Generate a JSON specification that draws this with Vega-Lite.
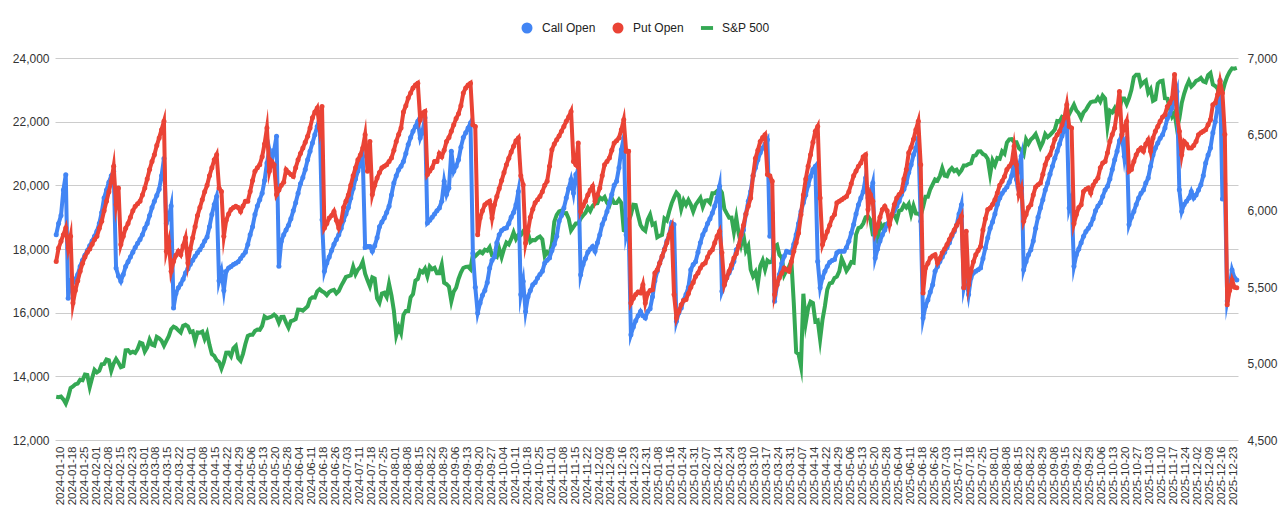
{
"$schema":"https://vega.github.io/schema/vega-lite/v6.json",
"width":1183,"height":382,
"autosize":{"type":"none"},
"padding":{"left":55,"top":58,"right":46,"bottom":78},
"config":{"view":{"stroke":null},"font":"Liberation Sans","axis":{"labelFont":"Liberation Sans","labelColor":"#333333","labelFontSize":12,"ticks":false,"tickSize":0,"domain":false}},
"data":{"values":[
{"d":"2024-01-10","c":18450,"p":17610,"s":4783},
{"d":"2024-01-11","c":18800,"p":18030,"s":4780},
{"d":"2024-01-12","c":19050,"p":18240,"s":4784},
{"d":"2024-01-16","c":19850,"p":18450,"s":4766},
{"d":"2024-01-17","c":20330,"p":18660,"s":4739},
{"d":"2024-01-18","c":16450,"p":18030,"s":4781},
{"d":"2024-01-19","c":17000,"p":18400,"s":4840},
{"d":"2024-01-22","c":16950,"p":16300,"s":4850},
{"d":"2024-01-23","c":17050,"p":16700,"s":4865},
{"d":"2024-01-24","c":17200,"p":17000,"s":4869},
{"d":"2024-01-25","c":17450,"p":17300,"s":4894},
{"d":"2024-01-26","c":17650,"p":17550,"s":4891},
{"d":"2024-01-29","c":17800,"p":17750,"s":4928},
{"d":"2024-01-30","c":17950,"p":17900,"s":4925},
{"d":"2024-01-31","c":18100,"p":18000,"s":4846},
{"d":"2024-02-01","c":18250,"p":18150,"s":4906},
{"d":"2024-02-02","c":18400,"p":18300,"s":4959},
{"d":"2024-02-05","c":18560,"p":18400,"s":4943},
{"d":"2024-02-06","c":18800,"p":18650,"s":4954},
{"d":"2024-02-07","c":19150,"p":18870,"s":4995},
{"d":"2024-02-08","c":19600,"p":19200,"s":4998},
{"d":"2024-02-09","c":19850,"p":19500,"s":5027},
{"d":"2024-02-12","c":20100,"p":19800,"s":5022},
{"d":"2024-02-13","c":20300,"p":20130,"s":4953},
{"d":"2024-02-14","c":20440,"p":20600,"s":5001},
{"d":"2024-02-15","c":17400,"p":19400,"s":5030},
{"d":"2024-02-16","c":17150,"p":19920,"s":5006},
{"d":"2024-02-20","c":16990,"p":18140,"s":4976},
{"d":"2024-02-21","c":17200,"p":18400,"s":4982},
{"d":"2024-02-22","c":17450,"p":18650,"s":5087},
{"d":"2024-02-23","c":17600,"p":18800,"s":5089},
{"d":"2024-02-26","c":17750,"p":19000,"s":5070},
{"d":"2024-02-27","c":17900,"p":19200,"s":5078},
{"d":"2024-02-28","c":18050,"p":19340,"s":5070},
{"d":"2024-02-29","c":18180,"p":19420,"s":5096},
{"d":"2024-03-01","c":18300,"p":19500,"s":5137},
{"d":"2024-03-04","c":18450,"p":19700,"s":5131},
{"d":"2024-03-05","c":18650,"p":19920,"s":5079},
{"d":"2024-03-06","c":18800,"p":20200,"s":5105},
{"d":"2024-03-07","c":19050,"p":20500,"s":5157},
{"d":"2024-03-08","c":19300,"p":20750,"s":5124},
{"d":"2024-03-11","c":19500,"p":20960,"s":5118},
{"d":"2024-03-12","c":19680,"p":21250,"s":5175},
{"d":"2024-03-13","c":19880,"p":21490,"s":5165},
{"d":"2024-03-14","c":20300,"p":21750,"s":5150},
{"d":"2024-03-15","c":20840,"p":22010,"s":5117},
{"d":"2024-03-18","c":18800,"p":17930,"s":5149},
{"d":"2024-03-19","c":19000,"p":18240,"s":5179},
{"d":"2024-03-20","c":19350,"p":17300,"s":5225},
{"d":"2024-03-21","c":16150,"p":17610,"s":5242},
{"d":"2024-03-22","c":16600,"p":17800,"s":5234},
{"d":"2024-03-25","c":16780,"p":17930,"s":5218},
{"d":"2024-03-26","c":16900,"p":17820,"s":5204},
{"d":"2024-03-27","c":17050,"p":18100,"s":5248},
{"d":"2024-03-28","c":17250,"p":18350,"s":5254},
{"d":"2024-04-01","c":17380,"p":17560,"s":5244},
{"d":"2024-04-02","c":17520,"p":18000,"s":5206},
{"d":"2024-04-03","c":17650,"p":18350,"s":5211},
{"d":"2024-04-04","c":17770,"p":18700,"s":5147},
{"d":"2024-04-05","c":17880,"p":19050,"s":5204},
{"d":"2024-04-08","c":17980,"p":19300,"s":5202},
{"d":"2024-04-09","c":18100,"p":19550,"s":5210},
{"d":"2024-04-10","c":18250,"p":19800,"s":5161},
{"d":"2024-04-11","c":18380,"p":20000,"s":5199},
{"d":"2024-04-12","c":18700,"p":20300,"s":5123},
{"d":"2024-04-15","c":19080,"p":20550,"s":5062},
{"d":"2024-04-16","c":19400,"p":20800,"s":5051},
{"d":"2024-04-17","c":19650,"p":20960,"s":5022},
{"d":"2024-04-18","c":17000,"p":19920,"s":5011},
{"d":"2024-04-19","c":17300,"p":19810,"s":4967},
{"d":"2024-04-22","c":16700,"p":18400,"s":5011},
{"d":"2024-04-23","c":17300,"p":18900,"s":5071},
{"d":"2024-04-24","c":17400,"p":19100,"s":5072},
{"d":"2024-04-25","c":17450,"p":19240,"s":5048},
{"d":"2024-04-26","c":17510,"p":19300,"s":5100},
{"d":"2024-04-29","c":17550,"p":19340,"s":5116},
{"d":"2024-04-30","c":17600,"p":19300,"s":5036},
{"d":"2024-05-01","c":17700,"p":19180,"s":5018},
{"d":"2024-05-02","c":17800,"p":19350,"s":5064},
{"d":"2024-05-03","c":17900,"p":19500,"s":5128},
{"d":"2024-05-06","c":18140,"p":19500,"s":5181},
{"d":"2024-05-07","c":18450,"p":19810,"s":5188},
{"d":"2024-05-08","c":18700,"p":20150,"s":5188},
{"d":"2024-05-09","c":19080,"p":20440,"s":5214},
{"d":"2024-05-10","c":19350,"p":20550,"s":5223},
{"d":"2024-05-13","c":19550,"p":20650,"s":5221},
{"d":"2024-05-14","c":19750,"p":20900,"s":5247},
{"d":"2024-05-15","c":20150,"p":21300,"s":5308},
{"d":"2024-05-16","c":20700,"p":21800,"s":5297},
{"d":"2024-05-17","c":21120,"p":20440,"s":5303},
{"d":"2024-05-20","c":20750,"p":20750,"s":5308},
{"d":"2024-05-21","c":21100,"p":20650,"s":5321},
{"d":"2024-05-22","c":21540,"p":19710,"s":5307},
{"d":"2024-05-23","c":17460,"p":19850,"s":5268},
{"d":"2024-05-24","c":18240,"p":20000,"s":5305},
{"d":"2024-05-28","c":18450,"p":20100,"s":5306},
{"d":"2024-05-29","c":18600,"p":20490,"s":5267},
{"d":"2024-05-30","c":18750,"p":20400,"s":5235},
{"d":"2024-05-31","c":18950,"p":20340,"s":5278},
{"d":"2024-06-03","c":19200,"p":20280,"s":5283},
{"d":"2024-06-04","c":19450,"p":20550,"s":5291},
{"d":"2024-06-05","c":19750,"p":20800,"s":5354},
{"d":"2024-06-06","c":20050,"p":21000,"s":5353},
{"d":"2024-06-07","c":20250,"p":21170,"s":5347},
{"d":"2024-06-10","c":20500,"p":21350,"s":5361},
{"d":"2024-06-11","c":20800,"p":21540,"s":5375},
{"d":"2024-06-12","c":21070,"p":21800,"s":5421},
{"d":"2024-06-13","c":21330,"p":22120,"s":5434},
{"d":"2024-06-14","c":21590,"p":22300,"s":5432},
{"d":"2024-06-17","c":21850,"p":22430,"s":5473},
{"d":"2024-06-18","c":22120,"p":21800,"s":5487},
{"d":"2024-06-20","c":18920,"p":22480,"s":5473},
{"d":"2024-06-21","c":17300,"p":18660,"s":5465},
{"d":"2024-06-24","c":17560,"p":18800,"s":5448},
{"d":"2024-06-25","c":17750,"p":18970,"s":5469},
{"d":"2024-06-26","c":17950,"p":19050,"s":5478},
{"d":"2024-06-27","c":18150,"p":19180,"s":5483},
{"d":"2024-06-28","c":18300,"p":18900,"s":5460},
{"d":"2024-07-01","c":18450,"p":18660,"s":5475},
{"d":"2024-07-02","c":18650,"p":18870,"s":5509},
{"d":"2024-07-03","c":18900,"p":19300,"s":5537},
{"d":"2024-07-05","c":19100,"p":19500,"s":5567},
{"d":"2024-07-08","c":19300,"p":19700,"s":5573},
{"d":"2024-07-09","c":19600,"p":20000,"s":5577},
{"d":"2024-07-10","c":19900,"p":20300,"s":5634},
{"d":"2024-07-11","c":20200,"p":20550,"s":5585},
{"d":"2024-07-12","c":20450,"p":20800,"s":5615},
{"d":"2024-07-15","c":20700,"p":20950,"s":5631},
{"d":"2024-07-16","c":20910,"p":21170,"s":5667},
{"d":"2024-07-17","c":18050,"p":21590,"s":5588},
{"d":"2024-07-18","c":18080,"p":20440,"s":5545},
{"d":"2024-07-19","c":18080,"p":21380,"s":5505},
{"d":"2024-07-22","c":17930,"p":19710,"s":5564},
{"d":"2024-07-23","c":18100,"p":20000,"s":5556},
{"d":"2024-07-24","c":18350,"p":20230,"s":5427},
{"d":"2024-07-25","c":18700,"p":20400,"s":5399},
{"d":"2024-07-26","c":18850,"p":20550,"s":5459},
{"d":"2024-07-29","c":18970,"p":20600,"s":5464},
{"d":"2024-07-30","c":19150,"p":20650,"s":5436},
{"d":"2024-07-31","c":19340,"p":20750,"s":5522},
{"d":"2024-08-01","c":19700,"p":20860,"s":5447},
{"d":"2024-08-02","c":20070,"p":21100,"s":5347},
{"d":"2024-08-05","c":20300,"p":21380,"s":5186},
{"d":"2024-08-06","c":20490,"p":21600,"s":5240},
{"d":"2024-08-07","c":20600,"p":21800,"s":5200},
{"d":"2024-08-08","c":20750,"p":22300,"s":5319},
{"d":"2024-08-09","c":21000,"p":22500,"s":5344},
{"d":"2024-08-12","c":21280,"p":22740,"s":5344},
{"d":"2024-08-13","c":21500,"p":22900,"s":5434},
{"d":"2024-08-14","c":21700,"p":23060,"s":5455},
{"d":"2024-08-15","c":21850,"p":23150,"s":5543},
{"d":"2024-08-16","c":22010,"p":23210,"s":5554},
{"d":"2024-08-19","c":21490,"p":22060,"s":5608},
{"d":"2024-08-20","c":21700,"p":22270,"s":5597},
{"d":"2024-08-21","c":22120,"p":22320,"s":5621},
{"d":"2024-08-22","c":18820,"p":20340,"s":5571},
{"d":"2024-08-23","c":18900,"p":20450,"s":5635},
{"d":"2024-08-26","c":19000,"p":20550,"s":5617},
{"d":"2024-08-27","c":19100,"p":20750,"s":5626},
{"d":"2024-08-28","c":19200,"p":20750,"s":5592},
{"d":"2024-08-29","c":19290,"p":21000,"s":5592},
{"d":"2024-08-30","c":19500,"p":20900,"s":5648},
{"d":"2024-09-03","c":20130,"p":21100,"s":5529},
{"d":"2024-09-04","c":19710,"p":21380,"s":5520},
{"d":"2024-09-05","c":19920,"p":21500,"s":5503},
{"d":"2024-09-06","c":21070,"p":21700,"s":5408},
{"d":"2024-09-09","c":20440,"p":21900,"s":5471},
{"d":"2024-09-10","c":20600,"p":22100,"s":5496},
{"d":"2024-09-11","c":20800,"p":22250,"s":5554},
{"d":"2024-09-12","c":21200,"p":22500,"s":5596},
{"d":"2024-09-13","c":21500,"p":22900,"s":5626},
{"d":"2024-09-16","c":21650,"p":23060,"s":5633},
{"d":"2024-09-17","c":21800,"p":23150,"s":5635},
{"d":"2024-09-18","c":21960,"p":23210,"s":5618},
{"d":"2024-09-19","c":17870,"p":21900,"s":5714},
{"d":"2024-09-20","c":16800,"p":21850,"s":5703},
{"d":"2024-09-23","c":15990,"p":18450,"s":5719},
{"d":"2024-09-24","c":16300,"p":18970,"s":5733},
{"d":"2024-09-25","c":16550,"p":19200,"s":5722},
{"d":"2024-09-26","c":16700,"p":19390,"s":5745},
{"d":"2024-09-27","c":16950,"p":19450,"s":5738},
{"d":"2024-09-30","c":17400,"p":19500,"s":5762},
{"d":"2024-10-01","c":17650,"p":18970,"s":5709},
{"d":"2024-10-02","c":17750,"p":19390,"s":5709},
{"d":"2024-10-03","c":18200,"p":19650,"s":5699},
{"d":"2024-10-04","c":18450,"p":19900,"s":5751},
{"d":"2024-10-07","c":18580,"p":20150,"s":5696},
{"d":"2024-10-08","c":18640,"p":20400,"s":5751},
{"d":"2024-10-09","c":18660,"p":20650,"s":5792},
{"d":"2024-10-10","c":18800,"p":20850,"s":5780},
{"d":"2024-10-11","c":19000,"p":21050,"s":5815},
{"d":"2024-10-14","c":19150,"p":21230,"s":5859},
{"d":"2024-10-15","c":19390,"p":21400,"s":5815},
{"d":"2024-10-16","c":19810,"p":21490,"s":5842},
{"d":"2024-10-17","c":16570,"p":20300,"s":5841},
{"d":"2024-10-18","c":16990,"p":20020,"s":5865},
{"d":"2024-10-21","c":16040,"p":18190,"s":5853},
{"d":"2024-10-22","c":16500,"p":18560,"s":5851},
{"d":"2024-10-23","c":16700,"p":19000,"s":5797},
{"d":"2024-10-24","c":16880,"p":19250,"s":5809},
{"d":"2024-10-25","c":16950,"p":19450,"s":5808},
{"d":"2024-10-28","c":17090,"p":19550,"s":5823},
{"d":"2024-10-29","c":17200,"p":19650,"s":5832},
{"d":"2024-10-30","c":17300,"p":19800,"s":5813},
{"d":"2024-10-31","c":17560,"p":20000,"s":5705},
{"d":"2024-11-01","c":17650,"p":20130,"s":5729},
{"d":"2024-11-04","c":17720,"p":20600,"s":5712},
{"d":"2024-11-05","c":17950,"p":21120,"s":5783},
{"d":"2024-11-06","c":18150,"p":21300,"s":5929},
{"d":"2024-11-07","c":18400,"p":21430,"s":5973},
{"d":"2024-11-08","c":18870,"p":21550,"s":5996},
{"d":"2024-11-11","c":19050,"p":21700,"s":6001},
{"d":"2024-11-12","c":19290,"p":21850,"s":5984},
{"d":"2024-11-13","c":19600,"p":22010,"s":5985},
{"d":"2024-11-14","c":19900,"p":22150,"s":5949},
{"d":"2024-11-15","c":20180,"p":22320,"s":5871},
{"d":"2024-11-18","c":19760,"p":20750,"s":5894},
{"d":"2024-11-19","c":20340,"p":20650,"s":5917},
{"d":"2024-11-20","c":20490,"p":21330,"s":5917},
{"d":"2024-11-21","c":17190,"p":19180,"s":5949},
{"d":"2024-11-22","c":17510,"p":19350,"s":5969},
{"d":"2024-11-25","c":17700,"p":19500,"s":5987},
{"d":"2024-11-26","c":17900,"p":19700,"s":6021},
{"d":"2024-11-27","c":18000,"p":19850,"s":5999},
{"d":"2024-11-29","c":18080,"p":19970,"s":6032},
{"d":"2024-12-02","c":17930,"p":19500,"s":6047},
{"d":"2024-12-03","c":18200,"p":19700,"s":6050},
{"d":"2024-12-04","c":18450,"p":19920,"s":6087},
{"d":"2024-12-05","c":18770,"p":20300,"s":6075},
{"d":"2024-12-06","c":18950,"p":20650,"s":6090},
{"d":"2024-12-09","c":19180,"p":20750,"s":6053},
{"d":"2024-12-10","c":19450,"p":20860,"s":6034},
{"d":"2024-12-11","c":19710,"p":21100,"s":6084},
{"d":"2024-12-12","c":20000,"p":21330,"s":6051},
{"d":"2024-12-13","c":20130,"p":21400,"s":6051},
{"d":"2024-12-16","c":20550,"p":21490,"s":6074},
{"d":"2024-12-17","c":21120,"p":21750,"s":6051},
{"d":"2024-12-18","c":21490,"p":22060,"s":5872},
{"d":"2024-12-19","c":18450,"p":21070,"s":5867},
{"d":"2024-12-20","c":18790,"p":21070,"s":5931},
{"d":"2024-12-23","c":15310,"p":16300,"s":5975},
{"d":"2024-12-24","c":15550,"p":16450,"s":6040},
{"d":"2024-12-26","c":15750,"p":16570,"s":6038},
{"d":"2024-12-27","c":15900,"p":16650,"s":5971},
{"d":"2024-12-30","c":16040,"p":16620,"s":5907},
{"d":"2024-12-31","c":15900,"p":16880,"s":5882},
{"d":"2025-01-02","c":15830,"p":16300,"s":5869},
{"d":"2025-01-03","c":16040,"p":16600,"s":5942},
{"d":"2025-01-06","c":16120,"p":16700,"s":5975},
{"d":"2025-01-07","c":16500,"p":16720,"s":5909},
{"d":"2025-01-08","c":17000,"p":17250,"s":5918},
{"d":"2025-01-10","c":17300,"p":17350,"s":5827},
{"d":"2025-01-13","c":17560,"p":17550,"s":5836},
{"d":"2025-01-14","c":17750,"p":17770,"s":5843},
{"d":"2025-01-15","c":18000,"p":17980,"s":5950},
{"d":"2025-01-16","c":18250,"p":18200,"s":5937},
{"d":"2025-01-17","c":18450,"p":18450,"s":5997},
{"d":"2025-01-21","c":18820,"p":18660,"s":6049},
{"d":"2025-01-22","c":18770,"p":16570,"s":6086},
{"d":"2025-01-23","c":15730,"p":15830,"s":6119},
{"d":"2025-01-24","c":16000,"p":16040,"s":6101},
{"d":"2025-01-27","c":16150,"p":16250,"s":6012},
{"d":"2025-01-28","c":16400,"p":16380,"s":6068},
{"d":"2025-01-29","c":16570,"p":16410,"s":6039},
{"d":"2025-01-30","c":16800,"p":16600,"s":6071},
{"d":"2025-01-31","c":17350,"p":16800,"s":6041},
{"d":"2025-02-03","c":17510,"p":16950,"s":5995},
{"d":"2025-02-04","c":17600,"p":17140,"s":6038},
{"d":"2025-02-05","c":17900,"p":17250,"s":6061},
{"d":"2025-02-06","c":18200,"p":17400,"s":6084},
{"d":"2025-02-07","c":18450,"p":17510,"s":6026},
{"d":"2025-02-10","c":18600,"p":17560,"s":6066},
{"d":"2025-02-11","c":18800,"p":17750,"s":6069},
{"d":"2025-02-12","c":18950,"p":17900,"s":6052},
{"d":"2025-02-13","c":19130,"p":17980,"s":6115},
{"d":"2025-02-14","c":19350,"p":18200,"s":6115},
{"d":"2025-02-18","c":19600,"p":18400,"s":6130},
{"d":"2025-02-19","c":19970,"p":18560,"s":6144},
{"d":"2025-02-20","c":16670,"p":17880,"s":6118},
{"d":"2025-02-21","c":16880,"p":16880,"s":6013},
{"d":"2025-02-24","c":17100,"p":17100,"s":5983},
{"d":"2025-02-25","c":17250,"p":17300,"s":5955},
{"d":"2025-02-26","c":17400,"p":17500,"s":5956},
{"d":"2025-02-27","c":17610,"p":17720,"s":5862},
{"d":"2025-02-28","c":17980,"p":17850,"s":5955},
{"d":"2025-03-03","c":18100,"p":18100,"s":5850},
{"d":"2025-03-04","c":18400,"p":18450,"s":5778},
{"d":"2025-03-05","c":18600,"p":18750,"s":5843},
{"d":"2025-03-06","c":19100,"p":19100,"s":5739},
{"d":"2025-03-07","c":19500,"p":19350,"s":5770},
{"d":"2025-03-10","c":19810,"p":19600,"s":5615},
{"d":"2025-03-11","c":20300,"p":20300,"s":5572},
{"d":"2025-03-12","c":20550,"p":20850,"s":5599},
{"d":"2025-03-13","c":20800,"p":21100,"s":5522},
{"d":"2025-03-14","c":21020,"p":21380,"s":5639},
{"d":"2025-03-17","c":21170,"p":21500,"s":5675},
{"d":"2025-03-18","c":21300,"p":21590,"s":5615},
{"d":"2025-03-19","c":21430,"p":20340,"s":5675},
{"d":"2025-03-20","c":18400,"p":20300,"s":5663},
{"d":"2025-03-21","c":19130,"p":20130,"s":5668},
{"d":"2025-03-24","c":16360,"p":16570,"s":5768},
{"d":"2025-03-25","c":16880,"p":16880,"s":5777},
{"d":"2025-03-26","c":17200,"p":17100,"s":5712},
{"d":"2025-03-27","c":17550,"p":17250,"s":5693},
{"d":"2025-03-28","c":17770,"p":17400,"s":5581},
{"d":"2025-03-31","c":17930,"p":17350,"s":5612},
{"d":"2025-04-01","c":17900,"p":17300,"s":5633},
{"d":"2025-04-02","c":17880,"p":17600,"s":5671},
{"d":"2025-04-03","c":18150,"p":17930,"s":5397},
{"d":"2025-04-04","c":18450,"p":18200,"s":5074},
{"d":"2025-04-07","c":18800,"p":18500,"s":5062},
{"d":"2025-04-08","c":19180,"p":19080,"s":4983},
{"d":"2025-04-09","c":19450,"p":19700,"s":5457},
{"d":"2025-04-10","c":19700,"p":20200,"s":5268},
{"d":"2025-04-11","c":20000,"p":20600,"s":5363},
{"d":"2025-04-14","c":20280,"p":20960,"s":5406},
{"d":"2025-04-15","c":20500,"p":21350,"s":5397},
{"d":"2025-04-16","c":20600,"p":21700,"s":5276},
{"d":"2025-04-17","c":17610,"p":21850,"s":5283},
{"d":"2025-04-21","c":16780,"p":19600,"s":5158},
{"d":"2025-04-22","c":17100,"p":18140,"s":5288},
{"d":"2025-04-23","c":17300,"p":18350,"s":5376},
{"d":"2025-04-24","c":17460,"p":18550,"s":5485},
{"d":"2025-04-25","c":17580,"p":18750,"s":5525},
{"d":"2025-04-28","c":17640,"p":18970,"s":5529},
{"d":"2025-04-29","c":17670,"p":19080,"s":5561},
{"d":"2025-04-30","c":17880,"p":19450,"s":5569},
{"d":"2025-05-01","c":17930,"p":19500,"s":5604},
{"d":"2025-05-02","c":17930,"p":19550,"s":5687},
{"d":"2025-05-05","c":17930,"p":19600,"s":5650},
{"d":"2025-05-06","c":18050,"p":19650,"s":5607},
{"d":"2025-05-07","c":18240,"p":19800,"s":5631},
{"d":"2025-05-08","c":18500,"p":20050,"s":5664},
{"d":"2025-05-09","c":18770,"p":20300,"s":5660},
{"d":"2025-05-12","c":19100,"p":20450,"s":5844},
{"d":"2025-05-13","c":19390,"p":20600,"s":5887},
{"d":"2025-05-14","c":19600,"p":20700,"s":5893},
{"d":"2025-05-15","c":19800,"p":20900,"s":5917},
{"d":"2025-05-16","c":20230,"p":20960,"s":5958},
{"d":"2025-05-19","c":19600,"p":19240,"s":5964},
{"d":"2025-05-20","c":19760,"p":19710,"s":5940},
{"d":"2025-05-21","c":20070,"p":19500,"s":5845},
{"d":"2025-05-22","c":17720,"p":18500,"s":5842},
{"d":"2025-05-23","c":18000,"p":18700,"s":5803},
{"d":"2025-05-27","c":18250,"p":19000,"s":5922},
{"d":"2025-05-28","c":18450,"p":19240,"s":5889},
{"d":"2025-05-29","c":18600,"p":19340,"s":5912},
{"d":"2025-05-30","c":18770,"p":19200,"s":5912},
{"d":"2025-06-02","c":18900,"p":18770,"s":5936},
{"d":"2025-06-03","c":19080,"p":19080,"s":5970},
{"d":"2025-06-04","c":19200,"p":19400,"s":5971},
{"d":"2025-06-05","c":19340,"p":19600,"s":5939},
{"d":"2025-06-06","c":19500,"p":19710,"s":6000},
{"d":"2025-06-09","c":19710,"p":19800,"s":6006},
{"d":"2025-06-10","c":19880,"p":20200,"s":6039},
{"d":"2025-06-11","c":20070,"p":20500,"s":6022},
{"d":"2025-06-12","c":20400,"p":21020,"s":6045},
{"d":"2025-06-13","c":20650,"p":21200,"s":5977},
{"d":"2025-06-16","c":20960,"p":21450,"s":6033},
{"d":"2025-06-17","c":21170,"p":21750,"s":5983},
{"d":"2025-06-18","c":21490,"p":22010,"s":5981},
{"d":"2025-06-20","c":18870,"p":20650,"s":5968},
{"d":"2025-06-23","c":15830,"p":16620,"s":6025},
{"d":"2025-06-24","c":16200,"p":17400,"s":6092},
{"d":"2025-06-25","c":16400,"p":17550,"s":6092},
{"d":"2025-06-26","c":16650,"p":17720,"s":6141},
{"d":"2025-06-27","c":16880,"p":17780,"s":6173},
{"d":"2025-06-30","c":17300,"p":17820,"s":6205},
{"d":"2025-07-01","c":17450,"p":17560,"s":6198},
{"d":"2025-07-02","c":17610,"p":17700,"s":6227},
{"d":"2025-07-03","c":17750,"p":17880,"s":6279},
{"d":"2025-07-07","c":17900,"p":18000,"s":6230},
{"d":"2025-07-08","c":18050,"p":18140,"s":6226},
{"d":"2025-07-09","c":18200,"p":18300,"s":6263},
{"d":"2025-07-10","c":18400,"p":18450,"s":6280},
{"d":"2025-07-11","c":18550,"p":18600,"s":6260},
{"d":"2025-07-14","c":18750,"p":18750,"s":6269},
{"d":"2025-07-15","c":19100,"p":18870,"s":6244},
{"d":"2025-07-16","c":19390,"p":19030,"s":6264},
{"d":"2025-07-17","c":16780,"p":16780,"s":6297},
{"d":"2025-07-18","c":17140,"p":18560,"s":6297},
{"d":"2025-07-21","c":16570,"p":16880,"s":6306},
{"d":"2025-07-22","c":17090,"p":17300,"s":6310},
{"d":"2025-07-23","c":17250,"p":17600,"s":6359},
{"d":"2025-07-24","c":17300,"p":17820,"s":6363},
{"d":"2025-07-25","c":17350,"p":17950,"s":6389},
{"d":"2025-07-28","c":17400,"p":18080,"s":6390},
{"d":"2025-07-29","c":17700,"p":18600,"s":6371},
{"d":"2025-07-30","c":18030,"p":18950,"s":6363},
{"d":"2025-07-31","c":18350,"p":19240,"s":6339},
{"d":"2025-08-01","c":18650,"p":19290,"s":6238},
{"d":"2025-08-04","c":18850,"p":19400,"s":6330},
{"d":"2025-08-05","c":19100,"p":19550,"s":6299},
{"d":"2025-08-06","c":19400,"p":19760,"s":6345},
{"d":"2025-08-07","c":19600,"p":20000,"s":6340},
{"d":"2025-08-08","c":19750,"p":20130,"s":6389},
{"d":"2025-08-11","c":19850,"p":20280,"s":6373},
{"d":"2025-08-12","c":19950,"p":20500,"s":6446},
{"d":"2025-08-13","c":20100,"p":20600,"s":6467},
{"d":"2025-08-14","c":20300,"p":20700,"s":6469},
{"d":"2025-08-15","c":20700,"p":21230,"s":6450},
{"d":"2025-08-18","c":20180,"p":20650,"s":6449},
{"d":"2025-08-19","c":20600,"p":19710,"s":6411},
{"d":"2025-08-20","c":20910,"p":19920,"s":6396},
{"d":"2025-08-21","c":17350,"p":18870,"s":6370},
{"d":"2025-08-22","c":17610,"p":19080,"s":6467},
{"d":"2025-08-25","c":17820,"p":19300,"s":6439},
{"d":"2025-08-26","c":17980,"p":19390,"s":6466},
{"d":"2025-08-27","c":18250,"p":19700,"s":6481},
{"d":"2025-08-28","c":18650,"p":19950,"s":6502},
{"d":"2025-08-29","c":19000,"p":20020,"s":6460},
{"d":"2025-09-02","c":19290,"p":20070,"s":6416},
{"d":"2025-09-03","c":19550,"p":20350,"s":6448},
{"d":"2025-09-04","c":19850,"p":20650,"s":6502},
{"d":"2025-09-05","c":20070,"p":20860,"s":6482},
{"d":"2025-09-08","c":20350,"p":20960,"s":6495},
{"d":"2025-09-09","c":20600,"p":21200,"s":6513},
{"d":"2025-09-10","c":20850,"p":21450,"s":6532},
{"d":"2025-09-11","c":21070,"p":21590,"s":6587},
{"d":"2025-09-12","c":21300,"p":21700,"s":6584},
{"d":"2025-09-15","c":21550,"p":21900,"s":6615},
{"d":"2025-09-16","c":21750,"p":22120,"s":6607},
{"d":"2025-09-17","c":22120,"p":22530,"s":6600},
{"d":"2025-09-18","c":19290,"p":21850,"s":6632},
{"d":"2025-09-19","c":19580,"p":21800,"s":6664},
{"d":"2025-09-22","c":17460,"p":18800,"s":6694},
{"d":"2025-09-23","c":17820,"p":19080,"s":6657},
{"d":"2025-09-24","c":18000,"p":19300,"s":6638},
{"d":"2025-09-25","c":18200,"p":19390,"s":6605},
{"d":"2025-09-26","c":18400,"p":19810,"s":6644},
{"d":"2025-09-29","c":18550,"p":19880,"s":6661},
{"d":"2025-09-30","c":18650,"p":19920,"s":6688},
{"d":"2025-10-01","c":18770,"p":19760,"s":6711},
{"d":"2025-10-02","c":18950,"p":20000,"s":6715},
{"d":"2025-10-03","c":19200,"p":20130,"s":6716},
{"d":"2025-10-06","c":19350,"p":20230,"s":6740},
{"d":"2025-10-07","c":19450,"p":20550,"s":6715},
{"d":"2025-10-08","c":19650,"p":20700,"s":6754},
{"d":"2025-10-09","c":19850,"p":20750,"s":6735},
{"d":"2025-10-10","c":19970,"p":21020,"s":6553},
{"d":"2025-10-13","c":20200,"p":21380,"s":6655},
{"d":"2025-10-14","c":20500,"p":21600,"s":6644},
{"d":"2025-10-15","c":20800,"p":21800,"s":6671},
{"d":"2025-10-16","c":21070,"p":22320,"s":6629},
{"d":"2025-10-17","c":21400,"p":22950,"s":6664},
{"d":"2025-10-20","c":21590,"p":21590,"s":6735},
{"d":"2025-10-21","c":20910,"p":21800,"s":6735},
{"d":"2025-10-22","c":21490,"p":22010,"s":6699},
{"d":"2025-10-23","c":18770,"p":20440,"s":6738},
{"d":"2025-10-24","c":19000,"p":20500,"s":6792},
{"d":"2025-10-27","c":19180,"p":20750,"s":6875},
{"d":"2025-10-28","c":19400,"p":20960,"s":6891},
{"d":"2025-10-29","c":19600,"p":21100,"s":6891},
{"d":"2025-10-30","c":19750,"p":21170,"s":6822},
{"d":"2025-10-31","c":19850,"p":21070,"s":6840},
{"d":"2025-11-03","c":20070,"p":21300,"s":6852},
{"d":"2025-11-04","c":20230,"p":21430,"s":6772},
{"d":"2025-11-05","c":20600,"p":21070,"s":6796},
{"d":"2025-11-06","c":20950,"p":21490,"s":6720},
{"d":"2025-11-07","c":21170,"p":21700,"s":6729},
{"d":"2025-11-10","c":21330,"p":21850,"s":6832},
{"d":"2025-11-11","c":21480,"p":22010,"s":6847},
{"d":"2025-11-12","c":21590,"p":22150,"s":6851},
{"d":"2025-11-13","c":21800,"p":22220,"s":6737},
{"d":"2025-11-14","c":22100,"p":22480,"s":6734},
{"d":"2025-11-17","c":22250,"p":22590,"s":6672},
{"d":"2025-11-18","c":22430,"p":22740,"s":6617},
{"d":"2025-11-19","c":22690,"p":23480,"s":6642},
{"d":"2025-11-20","c":22950,"p":22220,"s":6539},
{"d":"2025-11-21","c":19860,"p":21700,"s":6603},
{"d":"2025-11-24","c":19180,"p":20960,"s":6705},
{"d":"2025-11-25","c":19400,"p":21380,"s":6766},
{"d":"2025-11-26","c":19500,"p":21300,"s":6813},
{"d":"2025-11-28","c":19600,"p":21170,"s":6849},
{"d":"2025-12-01","c":19810,"p":21170,"s":6813},
{"d":"2025-12-02","c":19600,"p":21250,"s":6829},
{"d":"2025-12-03","c":19700,"p":21380,"s":6850},
{"d":"2025-12-04","c":19850,"p":21590,"s":6857},
{"d":"2025-12-05","c":20020,"p":21650,"s":6870},
{"d":"2025-12-08","c":20300,"p":21700,"s":6847},
{"d":"2025-12-09","c":20700,"p":21750,"s":6841},
{"d":"2025-12-10","c":20950,"p":21900,"s":6887},
{"d":"2025-12-11","c":21170,"p":22060,"s":6901},
{"d":"2025-12-12","c":21650,"p":22530,"s":6827},
{"d":"2025-12-15","c":22000,"p":22590,"s":6817},
{"d":"2025-12-16","c":22450,"p":22850,"s":6800},
{"d":"2025-12-17","c":23300,"p":23270,"s":6721},
{"d":"2025-12-18","c":19570,"p":22900,"s":6775},
{"d":"2025-12-19","c":20040,"p":21600,"s":6835},
{"d":"2025-12-22","c":16370,"p":16250,"s":6878},
{"d":"2025-12-23","c":16780,"p":16700,"s":6910},
{"d":"2025-12-24","c":17340,"p":17030,"s":6932},
{"d":"2025-12-26","c":17100,"p":16800,"s":6930},
{"d":"2025-12-29","c":17030,"p":16780,"s":6935}
]},
"encoding":{
 "x":{"field":"d","type":"ordinal","title":null,"scale":{"type":"point"},
  "axis":{"labelAngle":-90,"labelPadding":6,"labelFontSize":11.5,"labelOffset":4,"labelOverlap":false,"grid":false,"title":null,
   "values":["2024-01-10","2024-01-18","2024-01-25","2024-02-01","2024-02-08","2024-02-15","2024-02-23","2024-03-01","2024-03-08","2024-03-15","2024-03-22","2024-04-01","2024-04-08","2024-04-15","2024-04-22","2024-04-29","2024-05-06","2024-05-13","2024-05-20","2024-05-28","2024-06-04","2024-06-11","2024-06-18","2024-06-26","2024-07-03","2024-07-11","2024-07-18","2024-07-25","2024-08-01","2024-08-08","2024-08-15","2024-08-22","2024-08-29","2024-09-06","2024-09-13","2024-09-20","2024-09-27","2024-10-04","2024-10-11","2024-10-18","2024-10-25","2024-11-01","2024-11-08","2024-11-15","2024-11-22","2024-12-02","2024-12-09","2024-12-16","2024-12-23","2024-12-31","2025-01-08","2025-01-16","2025-01-24","2025-01-31","2025-02-07","2025-02-14","2025-02-24","2025-03-03","2025-03-10","2025-03-17","2025-03-24","2025-03-31","2025-04-07","2025-04-14","2025-04-22","2025-04-29","2025-05-06","2025-05-13","2025-05-20","2025-05-28","2025-06-04","2025-06-11","2025-06-18","2025-06-26","2025-07-03","2025-07-11","2025-07-18","2025-07-25","2025-08-01","2025-08-08","2025-08-15","2025-08-22","2025-08-29","2025-09-08","2025-09-15","2025-09-22","2025-09-29","2025-10-06","2025-10-13","2025-10-20","2025-10-27","2025-11-03","2025-11-10","2025-11-17","2025-11-24","2025-12-02","2025-12-09","2025-12-16","2025-12-23"]}}
},
"layer":[
 {"mark":{"type":"line","strokeWidth":4,"strokeMiterLimit":10},
  "encoding":{
   "y":{"field":"s","type":"quantitative","title":null,"scale":{"domain":[4500,7000]},
    "axis":{"orient":"right","values":[4500,5000,5500,6000,6500,7000],"format":",d","grid":false,"labelPadding":9,"title":null}},
   "color":{"datum":"S&P 500","type":"nominal",
    "scale":{"domain":["Call Open","Put Open","S&P 500"],"range":["#4285F4","#EA4335","#34A853"]},
    "legend":{"title":null,"orient":"none","legendX":466,"legendY":-36,"direction":"horizontal","padding":0,
     "labelFont":"Liberation Sans","labelFontSize":12,"labelColor":"#222222","labelOffset":9,"columnPadding":16,
     "symbolType":"circle","symbolSize":121,"symbolStrokeWidth":0,
     "encode":{"symbols":{"update":{
      "shape":{"signal":"datum.value === 'S&P 500' ? 'M-1.1,-0.35H1.1V0.35H-1.1Z' : 'circle'"},
      "fill":{"signal":"scale('color', datum.value)"},
      "strokeWidth":{"value":0}}}}}}
  }},
 {"mark":{"type":"line","strokeWidth":4,"strokeMiterLimit":10},
  "encoding":{
   "y":{"field":"c","type":"quantitative","title":null,"scale":{"domain":[12000,24000]},
    "axis":{"orient":"left","values":[12000,14000,16000,18000,20000,22000,24000],"format":",d","grid":true,"gridColor":"#cccccc","labelPadding":6,"title":null}},
   "color":{"datum":"Call Open","type":"nominal","scale":{"domain":["Call Open","Put Open","S&P 500"],"range":["#4285F4","#EA4335","#34A853"]},"legend":null}}},
 {"mark":{"type":"point","filled":true,"size":25,"opacity":1},
  "encoding":{
   "y":{"field":"c","type":"quantitative","scale":{"domain":[12000,24000]},"axis":null},
   "color":{"datum":"Call Open","type":"nominal","scale":{"domain":["Call Open","Put Open","S&P 500"],"range":["#4285F4","#EA4335","#34A853"]},"legend":null}}},
 {"mark":{"type":"line","strokeWidth":4,"strokeMiterLimit":10},
  "encoding":{
   "y":{"field":"p","type":"quantitative","scale":{"domain":[12000,24000]},"axis":null},
   "color":{"datum":"Put Open","type":"nominal","scale":{"domain":["Call Open","Put Open","S&P 500"],"range":["#4285F4","#EA4335","#34A853"]},"legend":null}}},
 {"mark":{"type":"point","filled":true,"size":25,"opacity":1},
  "encoding":{
   "y":{"field":"p","type":"quantitative","scale":{"domain":[12000,24000]},"axis":null},
   "color":{"datum":"Put Open","type":"nominal","scale":{"domain":["Call Open","Put Open","S&P 500"],"range":["#4285F4","#EA4335","#34A853"]},"legend":null}}}
],
"resolve":{"scale":{"y":"independent"}}
}
